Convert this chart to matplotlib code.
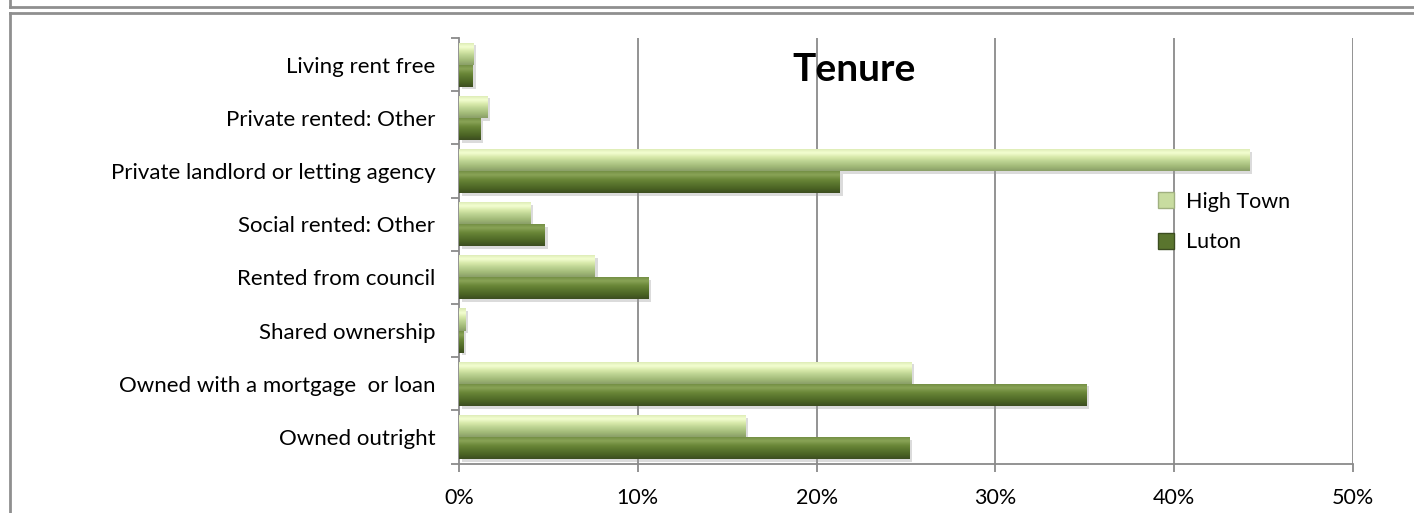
import numpy as np
import matplotlib
matplotlib.use("Agg")
import matplotlib.pyplot as plt
from matplotlib.colors import LinearSegmentedColormap
from matplotlib.patches import Patch
from matplotlib.lines import Line2D
import matplotlib.patheffects as pe

categories = ["Owned outright", "Owned with a mortgage  or loan", "Shared ownership",
              "Rented from council", "Social rented: Other",
              "Private landlord or letting agency", "Private rented: Other",
              "Living rent free"]
high_town = [16.0, 25.3, 0.37, 7.6, 4.0, 44.2, 1.6, 0.8]
luton = [25.2, 35.1, 0.24, 10.6, 4.8, 21.3, 1.2, 0.77]
series_names = ["High Town", "Luton"]
xticks = [0, 10, 20, 30, 40, 50]
xticklabels = ["0%", "10%", "20%", "30%", "40%", "50%"]

plt.rcParams['font.family'] = ['Lato', 'DejaVu Sans']

fig = plt.figure(figsize=(14.14, 5.13), dpi=100)
ax = fig.add_axes([459/1414, 1 - 463.5/513, (1353-459)/1414, (463.5-38)/513])

cm_ht = LinearSegmentedColormap.from_list("ht", ["#d9e8b0", "#f4ffd2", "#d6e8a8", "#b9d08f", "#a2ba78", "#8a9f68"])
cm_lu = LinearSegmentedColormap.from_list("lu", ["#6f8a40", "#8aa457", "#6b8839", "#5a752e", "#4b6424", "#3c4d20"])
grad = np.linspace(0, 1, 64).reshape(-1, 1)

h = 0.415
y = np.arange(len(categories))

for gx in xticks[1:]:
    ax.axvline(gx, color="#8a8a8a", lw=1.3, zorder=1)

def draw(vals, offset, cmap, mid):
    bars = ax.barh(y + offset, vals, height=h, color=mid, edgecolor="none", zorder=2,
                   path_effects=[pe.SimplePatchShadow(offset=(2, -2), shadow_rgbFace="#999999", alpha=0.35), pe.Normal()])
    for b in bars:
        x0, y0 = b.get_x(), b.get_y()
        w, hh = b.get_width(), b.get_height()
        im = ax.imshow(grad, extent=[x0, x0 + w, y0, y0 + hh], origin="upper",
                       cmap=cmap, aspect="auto", zorder=3, interpolation="bicubic")
        im.set_clip_path(b)
    return bars

draw(high_town, h / 2, cm_ht, "#c3d89a")
draw(luton, -h / 2, cm_lu, "#5a752e")

ax.set_xlim(0, 50)
ax.set_ylim(-0.5, len(categories) - 0.5)
ax.set_aspect("auto")

ax.set_xticks(xticks)
ax.set_xticklabels(xticklabels, fontsize=15.5)
ax.set_yticks(y)
ax.set_yticklabels(categories, fontsize=16)
ax.tick_params(axis="y", length=0, pad=17)
ax.set_yticks(np.arange(-0.5, len(categories), 1), minor=True)
ax.tick_params(axis="y", which="minor", length=6, color="#8a8a8a", width=1.3, direction="out")
ax.tick_params(axis="x", length=6, color="#8a8a8a", width=1.3, direction="out", pad=12)

for s in ["top", "right"]:
    ax.spines[s].set_visible(False)
for s in ["left", "bottom"]:
    ax.spines[s].set_color("#8a8a8a")
    ax.spines[s].set_linewidth(1.3)

ax.text(0.442, 0.925, "Tenure", transform=ax.transAxes, ha="center", va="center",
        fontsize=28, fontweight="bold", zorder=5)

handles = [Patch(facecolor="#c8dca0", edgecolor="#a0b080"), Patch(facecolor="#5a752e", edgecolor="#3c4d20")]
ax.legend(handles, series_names, loc="upper left", bbox_to_anchor=(0.76, 0.684),
          frameon=False, fontsize=15.5, handlelength=0.75, handleheight=0.75,
          handletextpad=0.55, labelspacing=0.95)

# frames
fig.add_artist(Line2D([9.5/1414, 1], [1 - 7/513, 1 - 7/513], color="#8f8f8f", lw=2))
fig.add_artist(Line2D([9.5/1414, 9.5/1414], [1 - 7/513, 1], color="#8f8f8f", lw=2))
fig.add_artist(Line2D([9.5/1414, 1], [1 - 13/513, 1 - 13/513], color="#8f8f8f", lw=2))
fig.add_artist(Line2D([9.5/1414, 9.5/1414], [0, 1 - 13/513], color="#8f8f8f", lw=2))

fig.savefig("out.png", dpi=100)
